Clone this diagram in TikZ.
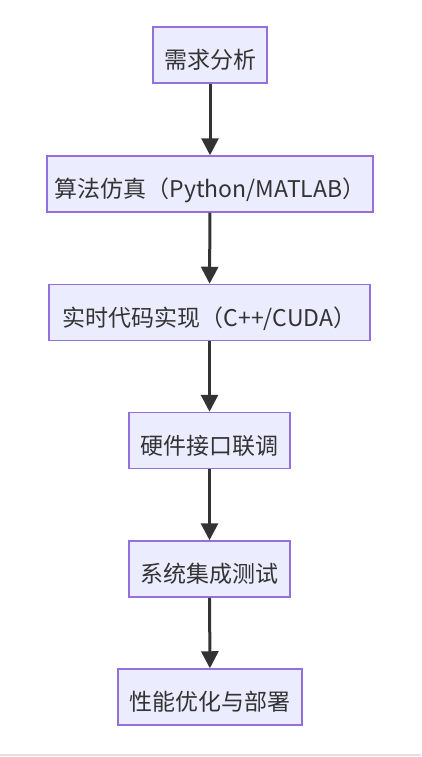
\documentclass[tikz,border=0pt]{standalone}
\usepackage{fontspec}
\newfontfamily\cjkfont{Noto Sans CJK SC}
\usetikzlibrary{arrows.meta}
\definecolor{flowink}{HTML}{333333}
\definecolor{flowfill}{HTML}{ECECFF}
\definecolor{flowborder}{HTML}{9370DB}
\definecolor{pagerule}{HTML}{E2E0D8}
\tikzset{
  every picture/.style={font=\cjkfont\fontsize{23}{27}\selectfont,text=flowink},
  stage/.style={rectangle,draw=flowborder,fill=flowfill,line width=1.5pt,
    minimum height=56pt,inner sep=0pt,text height=30pt,text depth=3pt},
  flow/.style={draw=flowink,line width=3pt,
    -{Triangle[length=17pt,width=17pt]}},
  rule/.style={draw=pagerule,line width=2pt},
}
\begin{document}
\begin{tikzpicture}[x=1pt,y=-1pt]
  \path[use as bounding box] (0,0) rectangle (421,757);
  \node[stage,minimum width=114pt] (need) at (210,55) {需求分析};
  \node[stage,minimum width=326pt] (sim) at (210,184) {算法仿真（Python/MATLAB）};
  \node[stage,minimum width=321pt] (impl) at (209.5,312.5) {实时代码实现（C++/CUDA）};
  \node[stage,minimum width=161pt] (hw) at (209.5,440.5) {硬件接口联调};
  \node[stage,minimum width=161pt] (sys) at (209.5,569) {系统集成测试};
  \node[stage,minimum width=184pt] (opt) at (210,697) {性能优化与部署};
  % one arrow per step, top to bottom
  \foreach \a/\b in {need/sim,sim/impl,impl/hw,hw/sys,sys/opt}
    {\draw[flow] (\a) -- (\b);}
  \coordinate (ruleL) at (0,755);
  \coordinate (ruleR) at (421,755);
  \draw[rule] (ruleL) -- (ruleR);
\end{tikzpicture}
\end{document}
